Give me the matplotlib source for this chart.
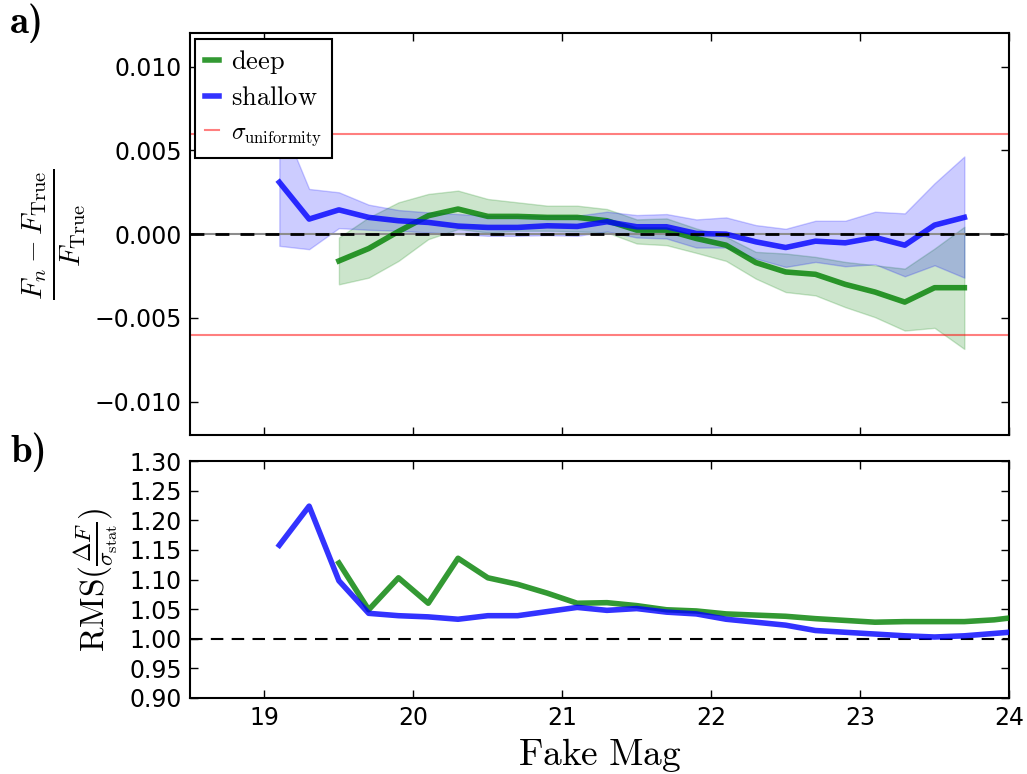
"""
Flux recovery vs fake-star magnitude for deep and shallow stacks.

a) fractional flux offset with 1-sigma band, b) RMS of normalised residuals.
"""

import matplotlib

matplotlib.use("Agg")
import matplotlib.pyplot as plt

# --- panel a) values -------------------------------------------------------
mag_shallow = [19.1, 19.3, 19.5, 19.7, 19.9, 20.1, 20.3, 20.5, 20.7, 20.9, 21.1, 21.3,
               21.5, 21.7, 21.9, 22.1, 22.3, 22.5, 22.7, 22.9, 23.1, 23.3, 23.5, 23.7]
frac_shallow = [0.0031, 0.0009, 0.00145, 0.0010, 0.0008, 0.0007, 0.00048, 0.0004,
                0.0004, 0.0005, 0.00046, 0.00074, 0.00044, 0.00044, 0.00004, 0.0,
                -0.00046, -0.0008, -0.00042, -0.00052, -0.0002, -0.00066, 0.00054, 0.0010]
frac_shallow_hi = [0.0070, 0.0027, 0.0025, 0.00176, 0.00144, 0.0013, 0.0012, 0.0011,
                   0.0011, 0.0011, 0.0011, 0.00134, 0.00114, 0.0012, 0.00088, 0.0010,
                   0.00054, 0.00032, 0.0008, 0.0008, 0.00134, 0.00124, 0.00304, 0.00464]
frac_shallow_lo = [-0.0007, -0.0009, 0.00036, 0.00026, 0.0002, 0.0001, 0.0, -0.0001,
                   -0.0001, -0.00006, -0.0001, 0.00016, -0.0002, -0.00026, -0.0008, -0.0008,
                   -0.00146, -0.00196, -0.00166, -0.00192, -0.0018, -0.00252, -0.00186, -0.0026]

mag_deep = [19.5, 19.7, 19.9, 20.1, 20.3, 20.5, 20.7, 20.9, 21.1, 21.3, 21.5,
            21.7, 21.9, 22.1, 22.3, 22.5, 22.7, 22.9, 23.1, 23.3, 23.5, 23.7]
frac_deep = [-0.0016, -0.00086, 0.00016, 0.0011, 0.0015, 0.00106, 0.00106, 0.0010,
             0.0010, 0.0008, 0.00024, 0.00024, -0.00026, -0.00066, -0.0017, -0.00226,
             -0.0024, -0.0030, -0.00346, -0.00406, -0.0032, -0.0032]
frac_deep_hi = [-0.0002, 0.0010, 0.0019, 0.0024, 0.0026, 0.0021, 0.0019, 0.0017,
                0.0017, 0.0015, 0.00088, 0.00094, 0.00034, -0.00016, -0.00106, -0.00116,
                -0.00136, -0.00166, -0.00186, -0.00206, -0.00086, 0.00044]
frac_deep_lo = [-0.0030, -0.0026, -0.0016, -0.0003, 0.0003, 0.0001, 0.0002, 0.0002,
                0.00016, 0.0001, -0.00056, -0.00066, -0.00112, -0.0016, -0.00266, -0.00346,
                -0.00366, -0.00436, -0.00496, -0.00576, -0.0056, -0.00686]

sigma_uniformity = 0.006

# --- panel b) values -------------------------------------------------------
rms_mag_shallow = [19.1, 19.3, 19.5, 19.7, 19.9, 20.1, 20.3, 20.5, 20.7, 20.9, 21.1, 21.3, 21.5,
                   21.7, 21.9, 22.1, 22.3, 22.5, 22.7, 22.9, 23.1, 23.3, 23.5, 23.7, 23.9, 24.1]
rms_shallow = [1.158, 1.224, 1.098, 1.043, 1.039, 1.037, 1.033, 1.039, 1.039, 1.046, 1.053,
               1.048, 1.051, 1.045, 1.042, 1.033, 1.028, 1.023, 1.014, 1.011, 1.008, 1.005,
               1.003, 1.005, 1.009, 1.013]
rms_mag_deep = [19.5, 19.7, 19.9, 20.1, 20.3, 20.5, 20.7, 20.9, 21.1, 21.3, 21.5, 21.7,
                21.9, 22.1, 22.3, 22.5, 22.7, 22.9, 23.1, 23.3, 23.5, 23.7, 23.9, 24.1]
rms_deep = [1.128, 1.049, 1.103, 1.060, 1.136, 1.103, 1.092, 1.077, 1.060, 1.061, 1.056,
            1.049, 1.047, 1.042, 1.040, 1.038, 1.034, 1.031, 1.028, 1.029, 1.029, 1.029,
            1.032, 1.038]

mag_ticks = [19, 20, 21, 22, 23, 24]
frac_ticks = [-0.010, -0.005, 0.0, 0.005, 0.010]
rms_ticks = [0.90, 0.95, 1.00, 1.05, 1.10, 1.15, 1.20, 1.25, 1.30]

GREEN = "g"
BLUE = "b"


def _style_axis(ax):
    ax.tick_params(direction="in", top=True, right=True, length=6, width=1,
                   labelsize=17, pad=6)
    for sp in ax.spines.values():
        sp.set_linewidth(1.5)


def main():
    plt.rcParams["mathtext.fontset"] = "cm"
    plt.rcParams["font.family"] = "DejaVu Sans"

    fig = plt.figure(figsize=(10.27, 7.74), dpi=100)
    ax1 = fig.add_axes([0.185, 0.438, 0.7975, 0.519])
    ax2 = fig.add_axes([0.185, 0.0982, 0.7975, 0.306])

    # panel a
    ax1.fill_between(mag_deep, frac_deep_lo, frac_deep_hi, color=GREEN, alpha=0.2)
    ax1.fill_between(mag_shallow, frac_shallow_lo, frac_shallow_hi, color=BLUE, alpha=0.2)
    ax1.axhline(0, color="0.55", lw=1.5, zorder=1)
    ax1.axhline(0, color="k", lw=2, ls="--", dashes=(5, 4), zorder=4)
    ax1.plot(mag_deep, frac_deep, color=GREEN, alpha=0.8, lw=4, label=r"$\rm deep$", zorder=3)
    ax1.plot(mag_shallow, frac_shallow, color=BLUE, alpha=0.8, lw=4, label=r"$\rm shallow$",
             zorder=3)
    ax1.axhline(sigma_uniformity, color="r", alpha=0.5, lw=1.5,
                label=r"$\sigma_{\rm uniformity}$")
    ax1.axhline(-sigma_uniformity, color="r", alpha=0.5, lw=1.5)

    ax1.set_xlim(18.5, 24)
    ax1.set_ylim(-0.012, 0.012)
    ax1.set_xticks(mag_ticks)
    ax1.set_xticklabels([])
    ax1.set_yticks(frac_ticks)
    _style_axis(ax1)
    ax1.set_ylabel(r"$\frac{F_n - F_{\rm True}}{F_{\rm True}}$", fontsize=30)
    ax1.yaxis.set_label_coords(-0.125, 0.5)

    leg = ax1.legend(loc="upper left", fontsize=19, handlelength=0.55, handletextpad=0.45,
                     borderaxespad=0.2, labelspacing=0.35, borderpad=0.35, fancybox=False,
                     framealpha=1, edgecolor="k")
    leg.get_frame().set_linewidth(1.5)
    leg.get_texts()[2].set_fontsize(17)
    leg.set_zorder(10)

    # panel b
    ax2.axhline(1.0, color="k", lw=1.5, ls="--", dashes=(6, 4), zorder=1)
    ax2.plot(rms_mag_deep, rms_deep, color=GREEN, alpha=0.8, lw=4, zorder=3)
    ax2.plot(rms_mag_shallow, rms_shallow, color=BLUE, alpha=0.8, lw=4, zorder=3)
    ax2.set_xlim(18.5, 24)
    ax2.set_ylim(0.9, 1.3)
    ax2.set_xticks(mag_ticks)
    ax2.set_yticks(rms_ticks)
    _style_axis(ax2)
    ax2.set_xlabel(r"$\rm Fake\ Mag$", fontsize=27)
    ax2.set_ylabel(r"$\mathrm{RMS}(\frac{\Delta F}{\sigma_{\rm stat}})$", fontsize=24)
    ax2.yaxis.set_label_coords(-0.085, 0.5)

    fig.text(0.01, 0.958, "a)", fontsize=28, family="cmb10")
    fig.text(0.01, 0.403, "b)", fontsize=28, family="cmb10")

    fig.savefig("out.png", dpi=100)
    plt.close(fig)


if __name__ == "__main__":
    main()
